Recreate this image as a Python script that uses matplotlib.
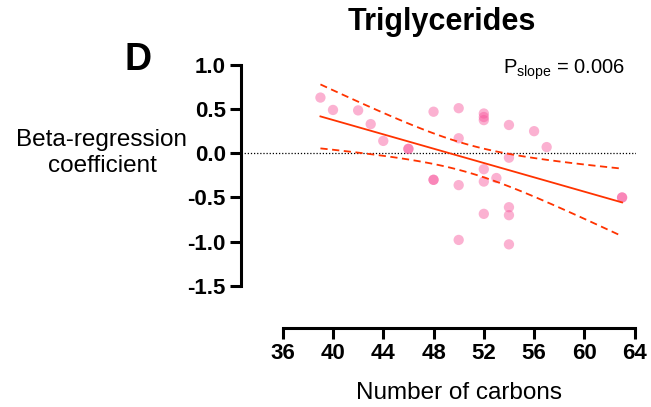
import numpy as np
import matplotlib
matplotlib.use('Agg')
import matplotlib.pyplot as plt

plt.rcParams['font.family'] = ['Liberation Sans', 'DejaVu Sans']
plt.rcParams['mathtext.fontset'] = 'custom'
plt.rcParams['mathtext.rm'] = 'Liberation Sans'
plt.rcParams['mathtext.it'] = 'Liberation Sans:italic'

# carbon number vs beta coefficient
carbons = [39, 40, 42, 43, 44, 46, 46, 48, 48, 48, 50, 50, 50, 50,
           52, 52, 52, 52, 52, 52, 53, 54, 54, 54, 54, 54, 56, 57, 63, 63]
beta = [0.63, 0.49, 0.485, 0.33, 0.14, 0.05, 0.05, 0.47, -0.30, -0.30,
        0.51, 0.17, -0.36, -0.98, 0.45, 0.41, 0.375, -0.18, -0.32, -0.685,
        -0.28, 0.32, -0.05, -0.61, -0.70, -1.03, 0.25, 0.07, -0.50, -0.50]
x_ticks = [36, 40, 44, 48, 52, 56, 60, 64]
y_ticks = [-1.5, -1.0, -0.5, 0.0, 0.5, 1.0]
p_slope = 0.006

x = np.array(carbons, dtype=float)
y = np.array(beta)
n = len(x)

# linear fit + 95% confidence band
slope, intercept = np.polyfit(x, y, 1)
resid = y - (slope * x + intercept)
s_err = np.sqrt(np.sum(resid ** 2) / (n - 2))
t_crit = 2.048  # t(0.975, df=28)
xs = np.linspace(x.min(), x.max(), 100)
fit = slope * xs + intercept
half = t_crit * s_err * np.sqrt(1 / n + (xs - x.mean()) ** 2 / np.sum((x - x.mean()) ** 2))

fig = plt.figure(figsize=(6.51, 4.07), dpi=100)
ax = fig.add_axes([0.3702, 0.1941, 0.6066, 0.6509])

ax.axhline(0, color='black', lw=0.9, ls=(0, (1, 1.5)), zorder=1)
ax.scatter(x, y, s=55, color='#F7539A', alpha=0.45, edgecolors='none', zorder=2)
line_col = '#FF3300'
ax.plot(xs, fit, color=line_col, lw=1.3, zorder=3)
ax.plot(xs, fit + half, color=line_col, lw=1.3, ls=(0, (4, 2.5)), zorder=3)
ax.plot(xs, fit - half, color=line_col, lw=1.3, ls=(0, (4, 2.5)), zorder=3)

ax.set_xlim(32.68, 64.1)
ax.set_ylim(-1.976, 1.02)
for side in ['top', 'right']:
    ax.spines[side].set_visible(False)
ax.spines['left'].set_bounds(-1.5, 1.0)
ax.spines['bottom'].set_bounds(36, 64)
for side in ['left', 'bottom']:
    ax.spines[side].set_linewidth(2.2)
ax.set_xticks(x_ticks)
ax.set_yticks(y_ticks)
ax.set_yticklabels(['%.1f' % v for v in y_ticks])
ax.tick_params(width=2.2, length=8, pad=3, labelsize=16)
for lab in ax.get_xticklabels() + ax.get_yticklabels():
    lab.set_fontweight('bold')

fig.text(459 / 651, 1 - 393 / 407, 'Number of carbons', fontsize=17.5,
         ha='center', va='center')
fig.text(442 / 651, 1 - 22 / 407, 'Triglycerides', fontsize=22, fontweight='bold',
         ha='center', va='center')
fig.text(138 / 651, 1 - 60 / 407, 'D', fontsize=27, fontweight='bold',
         ha='center', va='center')
fig.text(102 / 651, 1 - 153 / 407, 'Beta-regression\ncoefficient', fontsize=17.5,
         ha='center', va='center', linespacing=1.25)
fig.text(625 / 651, 1 - 70 / 407, r'P$_{\rm slope}$ = %.3f' % p_slope, fontsize=14.5,
         ha='right', va='center')

fig.savefig('out.png', dpi=100)
